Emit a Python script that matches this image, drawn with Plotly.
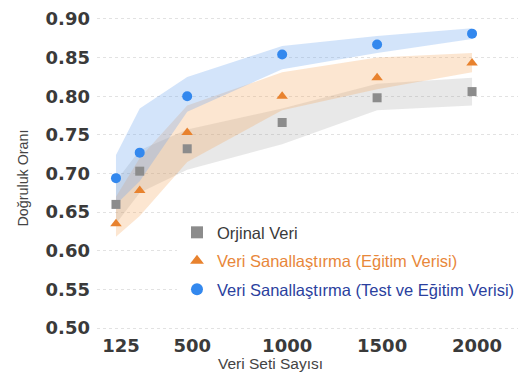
import plotly.graph_objects as go

x_vals = [125, 250, 500, 1000, 1500, 2000]
tick_vals = [125, 500, 1000, 1500, 2000]
y_ticks = [0.50, 0.55, 0.60, 0.65, 0.70, 0.75, 0.80, 0.85, 0.90]

orj_mean = [0.660, 0.703, 0.732, 0.766, 0.798, 0.806]
orj_upper = [0.690, 0.730, 0.757, 0.784, 0.816, 0.824]
orj_lower = [0.635, 0.675, 0.705, 0.738, 0.782, 0.788]

egt_mean = [0.635, 0.678, 0.753, 0.800, 0.824, 0.843]
egt_upper = [0.670, 0.720, 0.788, 0.831, 0.850, 0.856]
egt_lower = [0.618, 0.645, 0.715, 0.782, 0.809, 0.831]

tst_mean = [0.694, 0.727, 0.800, 0.854, 0.867, 0.881]
tst_upper = [0.724, 0.784, 0.825, 0.865, 0.878, 0.888]
tst_lower = [0.660, 0.690, 0.780, 0.835, 0.856, 0.874]

names = [
    "<span style='color:#3a3a3a'>Orjinal Veri</span>",
    "<span style='color:#e8873a'>Veri Sanallaştırma (Eğitim Verisi)</span>",
    "<span style='color:#2b3f9e'>Veri Sanallaştırma (Test ve Eğitim Verisi)</span>",
]

series = [
    (orj_mean, orj_upper, orj_lower, "#8c8c8c", "rgba(150,150,150,0.22)", "square", 9),
    (egt_mean, egt_upper, egt_lower, "#e8822e", "rgba(245,165,90,0.28)", "triangle-up", 10),
    (tst_mean, tst_upper, tst_lower, "#3388ee", "rgba(110,165,240,0.30)", "circle", 10),
]

fig = go.Figure()
for i, (m, up, lo, col, fill, sym, sz) in enumerate(series):
    fig.add_trace(go.Scatter(x=x_vals, y=up, mode="lines", line=dict(width=0),
                             showlegend=False, hoverinfo="skip", legendgroup=f"g{i}"))
    fig.add_trace(go.Scatter(x=x_vals, y=lo, mode="lines", line=dict(width=0),
                             fill="tonexty", fillcolor=fill,
                             showlegend=False, hoverinfo="skip", legendgroup=f"g{i}"))
for i, (m, up, lo, col, fill, sym, sz) in enumerate(series):
    fig.add_trace(go.Scatter(x=x_vals, y=m, mode="markers", name=names[i],
                             legendgroup=f"g{i}",
                             marker=dict(symbol=sym, size=sz, color=col)))

fig.update_layout(
    width=531, height=374,
    margin=dict(l=97, r=13, t=8, b=38),
    paper_bgcolor="white", plot_bgcolor="white",
    font=dict(family="Liberation Sans, Arial, sans-serif", color="#444"),
    legend=dict(x=0.19, y=0.372, xanchor="left", yanchor="top",
                bgcolor="rgba(255,255,255,1)", font=dict(size=16.5),
                tracegroupgap=4, itemsizing="constant"),
    annotations=[
        dict(text="Veri Seti Sayısı", xref="paper", yref="paper",
             x=(270 - 97) / 421, y=-(364 - 336) / 328, xanchor="center", yanchor="middle",
             showarrow=False, font=dict(size=15.5, color="#444")),
        dict(text="Doğruluk Oranı", xref="paper", yref="paper",
             x=-(97 - 23) / 421, y=(336 - 177) / 328, xanchor="center", yanchor="middle",
             textangle=-90, showarrow=False, font=dict(size=14.3, color="#444")),
    ],
)
fig.update_xaxes(range=[25, 2242], tickvals=tick_vals, showgrid=False, zeroline=False,
                 showline=False, ticks="", ticklabelshift=5, ticklabelstandoff=-3,
                 tickfont=dict(family="DejaVu Sans", size=18, color="#3a3a3a", weight="bold"))
fig.update_yaxes(range=[0.4897, 0.9103], tickvals=y_ticks, tickformat=".2f",
                 showgrid=True, gridcolor="#e2e2e2", griddash="dot", zeroline=False,
                 showline=False, ticks="", ticklabelstandoff=6,
                 tickfont=dict(family="DejaVu Sans", size=18, color="#3a3a3a", weight="bold"))

fig.write_html("out.html")
